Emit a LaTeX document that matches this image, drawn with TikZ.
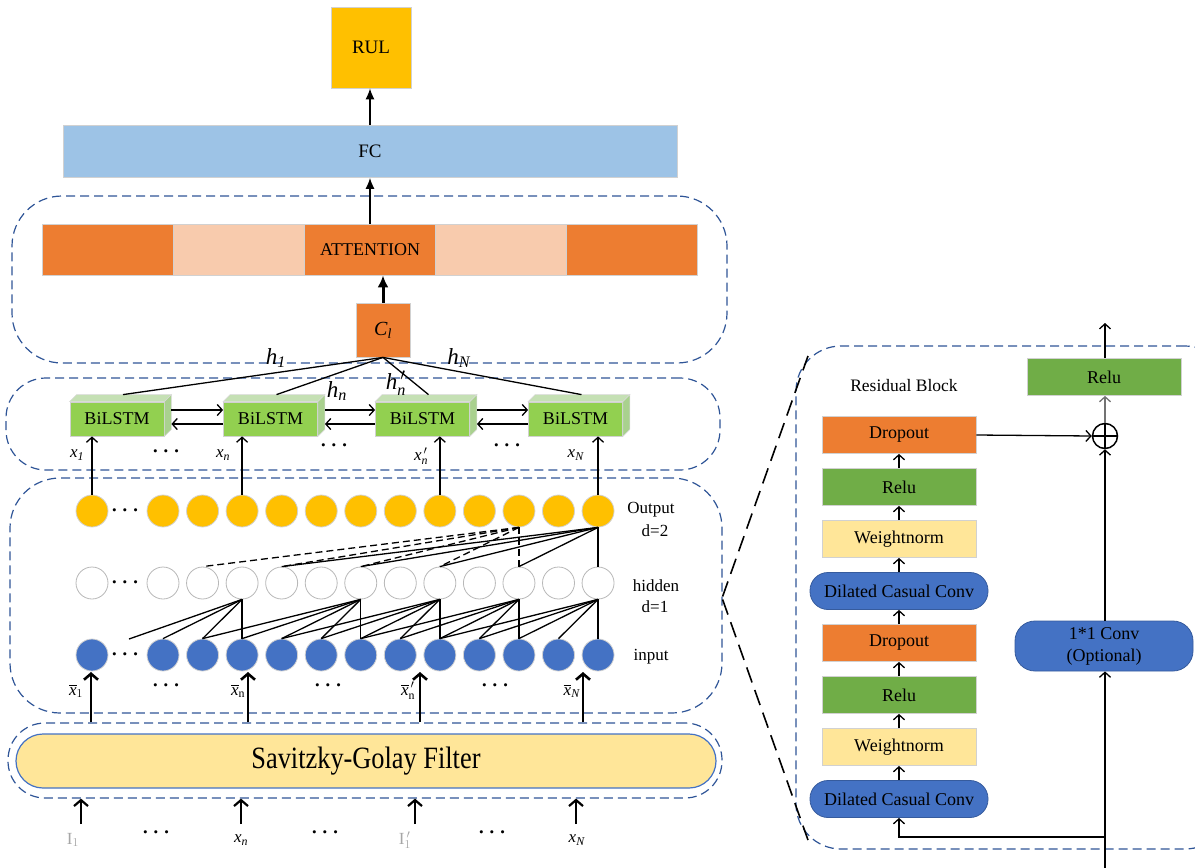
\documentclass[tikz,border=0pt]{standalone}
\usepackage{amsmath}
\usepackage{fontspec}
\setmainfont{Liberation Serif}
\newfontfamily\sgfont[FakeStretch=0.85]{Liberation Serif}
\usetikzlibrary{arrows.meta,calc}
\definecolor{gold}{HTML}{FFC000}
\definecolor{fcblue}{HTML}{9DC3E6}
\definecolor{dorange}{HTML}{ED7D31}
\definecolor{peach}{HTML}{F8CBAD}
\definecolor{lgreen}{HTML}{92D050}
\definecolor{ltopgreen}{HTML}{C5E0B4}
\definecolor{lsidegreen}{HTML}{A9D18E}
\definecolor{rgreen}{HTML}{70AD47}
\definecolor{wnyellow}{HTML}{FFE699}
\definecolor{cblue}{HTML}{4472C4}
\definecolor{dblue}{HTML}{2F5597}
\newcommand\myfs[1]{\fontsize{#1}{#1}\selectfont}
\newcommand\myfsb{\fontsize{18}{22}\selectfont}
\newcommand\mydots{{\fontsize{21}{21}\selectfont\boldmath$\cdots$}}
\newcommand\itx[1]{\text{\textit{#1}}}
\begin{document}
\begin{tikzpicture}[x=1pt,y=-1pt,
  fbox/.style={draw=black!18, line width=0.8pt, inner sep=0pt, text=black},
  arr/.style={-{Straight Barb[length=5pt,width=11pt]}, line width=1.3pt},
  thickarr/.style={-{Straight Barb[length=6pt,width=14pt]}, line width=2.6pt},
  farr/.style={-{Latex[length=11pt,width=9pt]}, line width=1.3pt},
  dbox/.style={draw=dblue, dash pattern=on 9pt off 5pt, line width=1.2pt, inner sep=0pt},
  tline/.style={line width=1.3pt},
  ocirc/.style={circle, fill=gold, draw=black!18, line width=0.8pt, minimum size=32pt, inner sep=0pt},
  hcirc/.style={circle, fill=white, draw=black!28, line width=0.8pt, minimum size=32pt, inner sep=0pt},
  icirc/.style={circle, fill=cblue, draw=black!18, line width=0.8pt, minimum size=32pt, inner sep=0pt},
  lstm/.style={fbox, fill=lgreen, minimum width=94pt, minimum height=34pt, font=\myfs{18}},
  lab/.style={inner sep=0pt, font=\myfs{17}},
  rbox/.style={fbox, minimum width=154pt, minimum height=37pt, font=\myfs{18}},
  rround/.style={fbox, draw=cblue!80!black, fill=cblue, minimum width=178pt, minimum height=37pt, rounded corners=18pt, font=\myfs{18}}
]
\useasboundingbox (0,0) rectangle (1195,868);

% ---------- dashed group boxes ----------
\node[dbox, rounded corners=50pt, minimum width=715pt, minimum height=167pt] (topbox) at (369.5,279.5) {};
\node[dbox, rounded corners=40pt, minimum width=714pt, minimum height=92pt] (lstmbox) at (363,424) {};
\node[dbox, rounded corners=50pt, minimum width=712pt, minimum height=235pt] (tcnbox) at (366,595.5) {};
\node[dbox, rounded corners=37pt, minimum width=714pt, minimum height=75pt] (sgbox) at (365,760.5) {};
\node[dbox, rounded corners=45pt, minimum width=434pt, minimum height=503pt] (rbbox) at (1013,597.5) {};

% ---------- top part ----------
\node[fbox, fill=gold, minimum width=80pt, minimum height=81pt, font=\myfs{19}] (rul) at (371,47.5) {RUL};
\node[fbox, fill=fcblue, minimum width=614pt, minimum height=52pt, font=\myfs{19}] (fc) at (370,151.5) {FC};
\node[fbox, fill=dorange, minimum width=131pt, minimum height=51pt] (a1) at (107.5,249.5) {};
\node[fbox, fill=peach, minimum width=131pt, minimum height=51pt] (a2) at (239,249.5) {};
\node[fbox, fill=dorange, minimum width=131pt, minimum height=51pt, font=\myfs{18}] (a3) at (370,249.5) {ATTENTION};
\node[fbox, fill=peach, minimum width=131pt, minimum height=51pt] (a4) at (501,249.5) {};
\node[fbox, fill=dorange, minimum width=131pt, minimum height=51pt] (a5) at (632,249.5) {};
\node[fbox, fill=dorange, minimum width=54pt, minimum height=54pt, font=\myfs{20}] (cl) at (383,330) {$\itx{C}_{\itx{l}}$};

\draw[farr] (fc.north) -- (fc.north |- rul.south);
\draw[farr] (a3.north) -- (a3.north |- fc.south);
\draw[-{Latex[length=12pt,width=11pt]}, line width=3pt] (cl.north) -- (cl.north |- a3.south);

% ---------- BiLSTM ----------
\foreach \k/\x in {1/117,2/270.5,3/422.5,4/575.5}{
  \node[lstm] (b\k) at (\x,419) {BiLSTM};
  \draw[draw=black!15, fill=ltopgreen, line width=0.6pt] (b\k.north west) -- ++(7,-7) -- ($(b\k.north east)+(7,-7)$) -- (b\k.north east) -- cycle;
  \draw[draw=black!15, fill=lsidegreen, line width=0.6pt] (b\k.north east) -- ++(7,-7) -- ($(b\k.south east)+(7,-7)$) -- (b\k.south east) -- cycle;
  \draw[tline] (cl.south) -- ($(b\k.north)+(6,-7)$);
}
\foreach \k/\j in {1/2,2/3,3/4}{
  \draw[arr] ($(b\k.east)+(7,-9)$) -- ($(b\j.west)+(0,-9)$);
  \draw[arr] ($(b\j.west)+(0,5)$) -- ($(b\k.east)+(7,5)$);
}
\node[lab, font=\myfs{23}] (h1) at (276,358) {$\itx{h}_{\itx{1}}$};
\node[lab, font=\myfs{23}] (hn) at (337,391) {$\itx{h}_{\itx{n}}$};
\node[lab, font=\myfs{23}] (hn2) at (396,383) {$\itx{h}^{\,\prime}_{\itx{n}}$};
\node[lab, font=\myfs{23}] (hN) at (459,358) {$\itx{h}_{\itx{N}}$};

\node[lab] (x1) at (77,455) {$\itx{x}_{\itx{1}}$};
\node[lab] (d1) at (168,452) {\mydots};
\node[lab] (xn) at (223,455) {$\itx{x}_{\itx{n}}$};
\node[lab] (d2) at (336,446) {\mydots};
\node[lab] (xn2) at (421,456) {$\itx{x}^{\,\prime}_{\itx{n}}$};
\node[lab] (d3) at (509,446) {\mydots};
\node[lab] (xN) at (576,455) {$\itx{x}_{\itx{N}}$};

% ---------- TCN circles ----------
\node[ocirc] (o0) at (92,511) {};
\node[hcirc] (h0) at (92,583) {};
\node[icirc] (i0) at (92,655) {};
\foreach \r in {511,583,655} \node[lab] at (127,\r) {\mydots};
\foreach \i in {1,...,12}{
  \pgfmathsetmacro\xx{163+(\i-1)*39.55}
  \node[ocirc] (o\i) at (\xx,511) {};
  \node[hcirc] (h\i) at (\xx,583) {};
  \node[icirc] (i\i) at (\xx,655) {};
}
\coordinate (v0) at (129,639);
\draw[tline] (h3.south) -- (v0);
\foreach \a/\b in {3/3,3/2,3/1,6/6,6/5,6/4,6/3,6/2,8/8,8/7,8/6,8/5,8/4,10/10,10/9,10/8,10/7,10/6,12/12,12/11,12/10,12/9,12/8}
  \draw[tline] (h\a.south) -- (i\b.north);
\foreach \b in {10,8,6,4,2}
  \draw[tline, dash pattern=on 7pt off 4pt] (o10.south) -- (h\b.north);
\foreach \b in {12,10,8,6,4}
  \draw[tline] (o12.south) -- (h\b.north);

\draw[arr] (o0.north) -- (o0.north |- b1.south);
\draw[arr] (o3.north) -- (o3.north |- b2.south);
\draw[arr] (o8.north) -- (o8.north |- b3.south);
\draw[arr] (o12.north) -- (o12.north |- b4.south);

\node[lab] (lout) at (651,510) {Output};
\node[lab] (ld2) at (655,531) {d=2};
\node[lab] (lhid) at (656,586) {hidden};
\node[lab] (ld1) at (655,607) {d=1};
\node[lab] (lin) at (651,657) {input};

% ---------- Savitzky-Golay ----------
\node[draw=cblue, fill=wnyellow, line width=1.2pt, rounded corners=27pt, minimum width=700pt, minimum height=54pt, inner sep=0pt] (sg) at (366,761) {\sgfont\myfs{31}Savitzky-Golay Filter};

\foreach \n/\x in {1/91,2/248,3/420,4/583}{
  \coordinate (up\n) at (\x,672);
  \draw[thickarr] (up\n |- sgbox.north) -- (up\n);
}
\node[lab] (xb1) at (76,691) {$\overline{\itx{x}}_{1}$};
\node[lab] (xbn) at (238,691) {$\overline{\itx{x}}_{\mathrm{n}}$};
\node[lab] (xbn2) at (408,691) {$\overline{\itx{x}}^{\,\prime}_{\mathrm{n}}$};
\node[lab] (xbN) at (572,691) {$\overline{\itx{x}}_{\itx{N}}$};
\node[lab] (e1) at (168,686) {\mydots};
\node[lab] (e2) at (330,686) {\mydots};
\node[lab] (e3) at (497,686) {\mydots};

\node[lab, text=black!35] (in1) at (73,840) {$\mathrm{I}_{1}$};
\node[lab] (ind1) at (158,833) {\mydots};
\node[lab] (inn) at (241,840) {$\itx{x}_{\itx{n}}$};
\node[lab] (ind2) at (327,833) {\mydots};
\node[lab, text=black!35] (int) at (405,840) {$\mathrm{I}^{\,\prime}_{1}$};
\node[lab] (ind3) at (494,833) {\mydots};
\node[lab] (inN) at (577,840) {$\itx{x}_{\itx{N}}$};
\foreach \n/\x in {1/81,2/241,3/415,4/576}{
  \coordinate (dn\n) at (\x,824);
  \draw[thickarr, line width=2.2pt] (dn\n) -- (dn\n |- sgbox.south);
}

% ---------- zoom lines ----------
\coordinate (zt) at (808,356);
\coordinate (zb) at (808,840);
\draw[line width=1.6pt, dash pattern=on 16pt off 8pt] ($(tcnbox.east)+(0,1)$) -- (zt);
\draw[line width=1.6pt, dash pattern=on 16pt off 8pt] ($(tcnbox.east)+(0,4)$) -- (zb);

% ---------- Residual block ----------
\node[inner sep=0pt, font=\myfs{17.5}] (rbl) at (904,386) {Residual Block};
\node[rbox, fill=dorange] (dr1) at (899,435) {Dropout};
\node[rbox, fill=rgreen] (re1) at (899,487) {Relu};
\node[rbox, fill=wnyellow] (wn1) at (899,539) {Weightnorm};
\node[rround] (dc1) at (899,591) {Dilated Casual Conv};
\node[rbox, fill=dorange] (dr2) at (899,643) {Dropout};
\node[rbox, fill=rgreen] (re2) at (899,695) {Relu};
\node[rbox, fill=wnyellow] (wn2) at (899,747) {Weightnorm};
\node[rround] (dc2) at (899,799) {Dilated Casual Conv};
\draw[arr] (re1.north) -- (dr1.south);
\draw[arr] (wn1.north) -- (re1.south);
\draw[arr] (dc1.north) -- (wn1.south);
\draw[arr] (dr2.north) -- (dc1.south);
\draw[arr] (re2.north) -- (dr2.south);
\draw[arr] (wn2.north) -- (re2.south);
\draw[arr] (dc2.north) -- (wn2.south);

\node[rbox, fill=rgreen] (reR) at (1104,377) {Relu};
\node[circle, draw, line width=1.5pt, minimum size=25pt, inner sep=0pt] (op) at (1105,436) {};
\draw[line width=1.5pt] (op.north) -- (op.south) (op.west) -- (op.east);
\node[rround, minimum width=178pt, minimum height=50pt, rounded corners=20pt, align=center, font=\myfsb] (cv) at (1104,646) {1*1 Conv\\(Optional)};

\coordinate (outtop) at (1105,323);
\coordinate (inbot) at (1105,868);
\coordinate (br) at (1105,837);
\draw[arr] (reR.north -| op.north) -- (outtop);
\draw[arr, draw=black!55] (op.north) -- (op.north |- reR.south);
\draw[arr] (dr1.east) -- (op.west);
\draw[arr] (cv.north -| op.south) -- (op.south);
\draw[arr] (inbot) -- (inbot |- cv.south);
\draw[arr] (br) -| (dc2.south);
\end{tikzpicture}
\end{document}
